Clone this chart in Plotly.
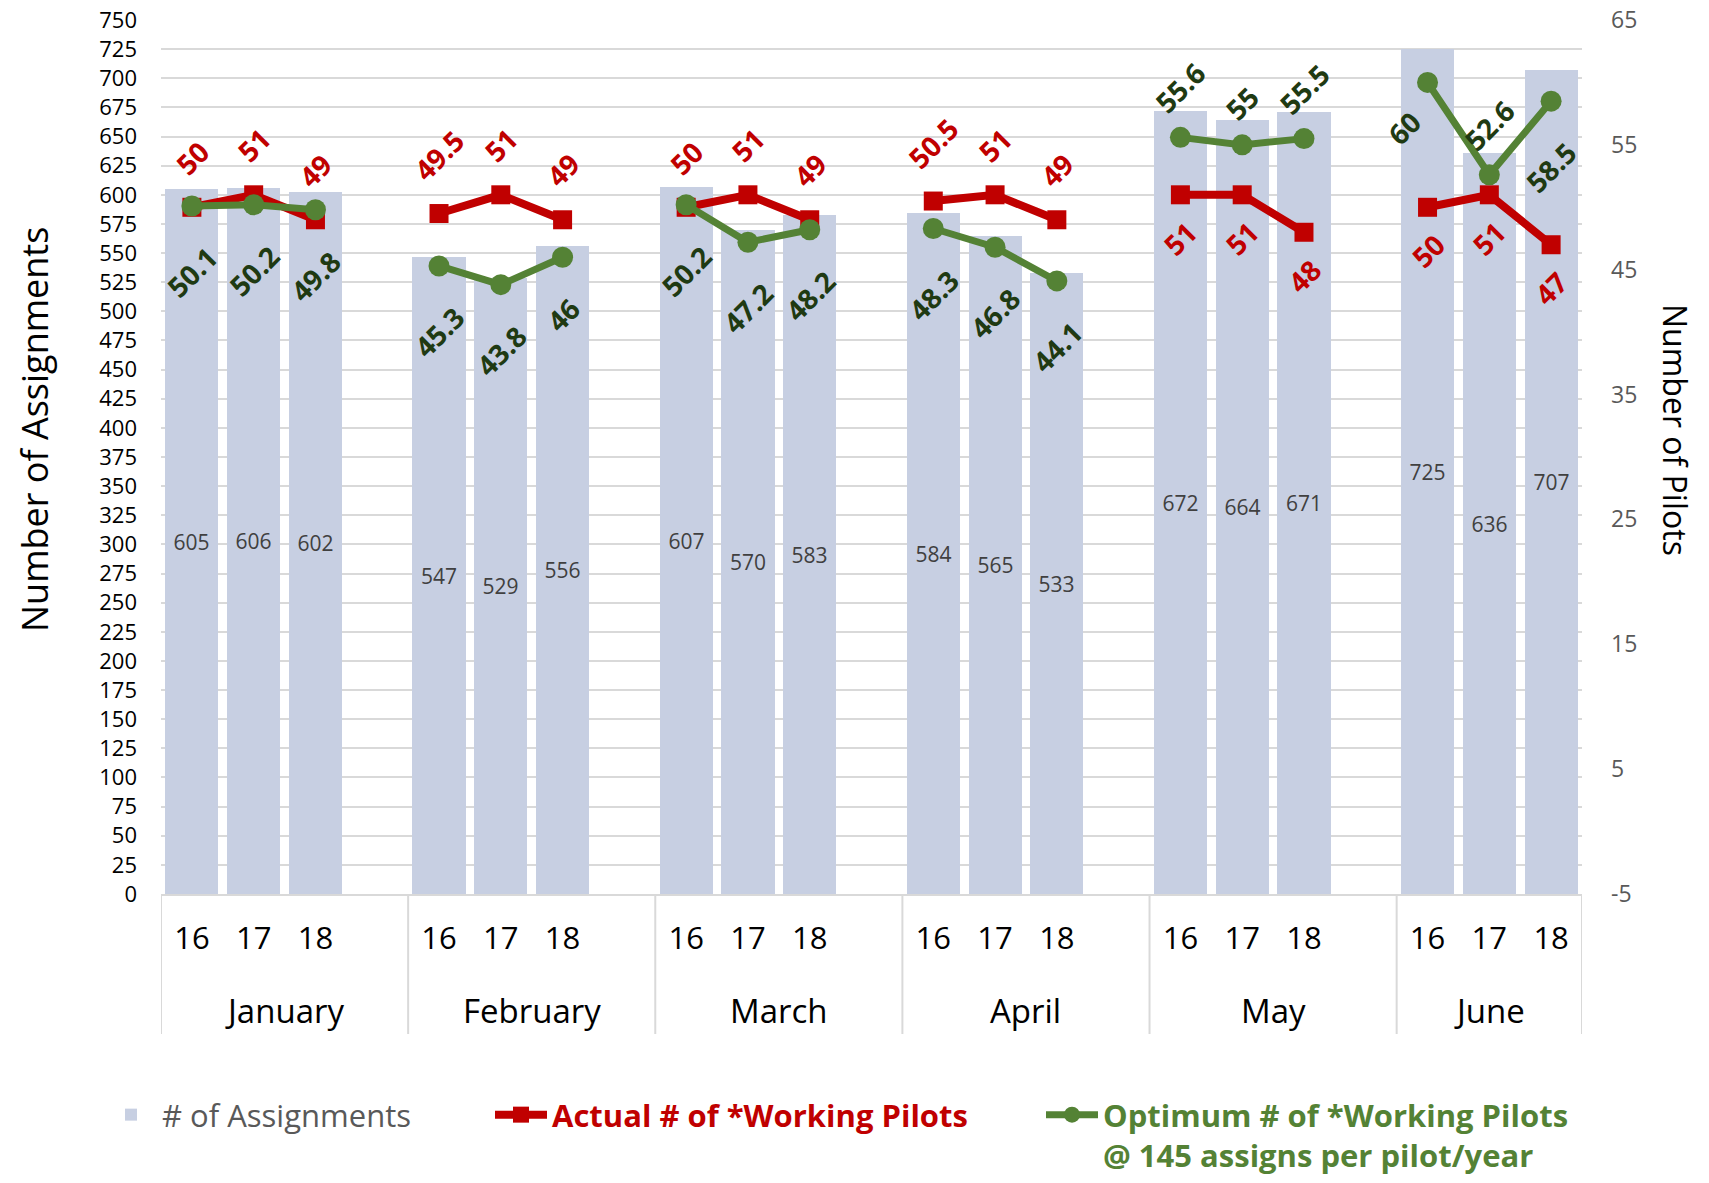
import plotly.graph_objects as go

# ---------------- data ----------------
months = ["January", "February", "March", "April", "May", "June"]
years = ["16", "17", "18"]

assignments = [
    [605, 606, 602],
    [547, 529, 556],
    [607, 570, 583],
    [584, 565, 533],
    [672, 664, 671],
    [725, 636, 707],
]
actual_pilots = [
    [50, 51, 49],
    [49.5, 51, 49],
    [50, 51, 49],
    [50.5, 51, 49],
    [51, 51, 48],
    [50, 51, 47],
]
optimum_pilots = [
    [50.1, 50.2, 49.8],
    [45.3, 43.8, 46],
    [50.2, 47.2, 48.2],
    [48.3, 46.8, 44.1],
    [55.6, 55, 55.5],
    [60, 52.6, 58.5],
]
pilot_ticks = [-5, 5, 15, 25, 35, 45, 55, 65]

# label placement (style, not data)
actual_label_pos = [["above"] * 3] * 4 + [["below"] * 3] * 2
optimum_label_pos = [["below"] * 3] * 4 + [["above"] * 3] + [["left", "above", "below"]]

# ---------------- layout helpers ----------------
SLOTS = 4  # 3 years + 1 empty slot per month group
OFF = 8    # page body margin
W, H = 1709 - OFF, 1183 - OFF


def P(v):  # reference pixel -> figure pixel
    return v - OFF


L, T = P(161), P(20)
R, B = W - P(1582), H - P(894)
PW, PH = W - L - R, H - T - B


def py_paper(py):
    return (H - B - P(py)) / PH


def px_paper(px):
    return (P(px) - L) / PW


bar_x, bar_y, bar_text, tick_text = [], [], [], []
for m, mon in enumerate(months):
    for k, yr in enumerate(years):
        bar_x.append(SLOTS * m + k)
        bar_y.append(assignments[m][k])
        bar_text.append(str(assignments[m][k]))
        tick_text.append(yr)
n_slots = SLOTS * (len(months) - 1) + len(years)


def line_xy(series):
    xs, ys = [], []
    for m in range(len(months)):
        for k in range(len(years)):
            xs.append(SLOTS * m + k)
            ys.append(series[m][k])
        xs.append(SLOTS * m + len(years))
        ys.append(None)
    return xs, ys


RED = "#C00000"
GREEN = "#548235"
DKGREEN = "#1F3A12"
BARC = "#C7CFE2"
GRID = "#D9D9D9"

fig = go.Figure()
fig.add_trace(go.Bar(
    x=bar_x, y=bar_y, text=bar_text, textposition="inside",
    insidetextanchor="middle", textangle=0,
    textfont=dict(family="Liberation Sans Narrow, Arial Narrow, Open Sans, sans-serif",
                  size=21, color="#404040"),
    marker=dict(color=BARC, line=dict(width=0)), width=0.86,
    name="# of Assignments", legend="legend", showlegend=True, hoverinfo="skip",
))

ax, ay = line_xy(actual_pilots)
fig.add_trace(go.Scatter(
    x=ax, y=ay, yaxis="y2", mode="lines+markers", connectgaps=False,
    line=dict(color=RED, width=8),
    marker=dict(symbol="square", size=19, color=RED),
    name="Actual # of *Working Pilots", legend="legend2", showlegend=True,
    hoverinfo="skip",
))
ox, oy = line_xy(optimum_pilots)
fig.add_trace(go.Scatter(
    x=ox, y=oy, yaxis="y2", mode="lines+markers", connectgaps=False,
    line=dict(color=GREEN, width=7),
    marker=dict(symbol="circle", size=21, color=GREEN),
    name="Optimum # of *Working Pilots<br>@ 145 assigns per pilot/year",
    legend="legend3", showlegend=True, hoverinfo="skip",
))

annotations = []
LABEL_FONT = "Open Sans"
LABEL_SIZE = 28


def fmt(v):
    return ("%g" % v)


def add_labels(series, positions, color, gaps):
    for m in range(len(months)):
        for k in range(len(years)):
            pos = positions[m][k]
            a = dict(x=SLOTS * m + k, y=series[m][k], xref="x", yref="y2",
                     text="<b>%s</b>" % fmt(series[m][k]), showarrow=False,
                     textangle=-45,
                     font=dict(family=LABEL_FONT, size=LABEL_SIZE, color=color))
            if pos == "above":
                a.update(xanchor="center", yanchor="bottom", yshift=gaps["above"])
            elif pos == "below":
                a.update(xanchor="center", yanchor="top", yshift=-gaps["below"])
            else:
                a.update(xanchor="right", yanchor="top", xshift=4, yshift=-18)
            annotations.append(a)


add_labels(actual_pilots, actual_label_pos, RED, {"above": 22, "below": 16})
add_labels(optimum_pilots, optimum_label_pos, DKGREEN, {"above": 14, "below": 30})

# month group labels
for m, mon in enumerate(months):
    start = SLOTS * m - 0.5
    end = min(SLOTS * m + SLOTS - 0.5, n_slots - 0.5)
    annotations.append(dict(
        x=(start + end) / 2, y=py_paper(1010), xref="x", yref="paper",
        text=mon, showarrow=False, xanchor="center", yanchor="middle",
        font=dict(family="Open Sans", size=33, color="#000000")))

# axis titles
annotations.append(dict(
    x=px_paper(34), y=py_paper(430), xref="paper", yref="paper",
    text="Number of Assignments", textangle=-90, showarrow=False,
    xanchor="center", yanchor="middle",
    font=dict(family="Open Sans", size=36, color="#000000")))
annotations.append(dict(
    x=px_paper(1676), y=py_paper(430), xref="paper", yref="paper",
    text="Number of Pilots", textangle=90, showarrow=False,
    xanchor="center", yanchor="middle",
    font=dict(family="Open Sans", size=32, color="#000000")))

# group dividers below the axis
shapes = []
div_x = [SLOTS * m - 0.5 for m in range(len(months))] + [n_slots - 0.5]
for dx in div_x:
    shapes.append(dict(type="line", xref="x", yref="paper", x0=dx, x1=dx,
                       y0=0, y1=py_paper(1034),
                       line=dict(color=GRID, width=2)))

LEG_Y = py_paper(1088)
fig.update_layout(
    width=W, height=H,
    margin=dict(l=L, r=R, t=T, b=B, autoexpand=False),
    paper_bgcolor="white", plot_bgcolor="white",
    font=dict(family="Open Sans", color="#000000"),
    showlegend=True,
    bargap=0,
    xaxis=dict(
        range=[-0.5, n_slots - 0.5], tickmode="array", tickvals=bar_x,
        ticktext=tick_text, ticks="", showgrid=False, zeroline=False,
        showline=True, linecolor=GRID, linewidth=2, automargin=False,
        tickfont=dict(family="Open Sans", size=31, color="#000000"),
        ticklabelstandoff=16, ticklabeloverflow="allow",
    ),
    yaxis=dict(
        range=[0, 750], tick0=0, dtick=25, showgrid=True, gridcolor=GRID,
        gridwidth=2, zeroline=False, showline=False, ticks="", automargin=False,
        tickfont=dict(family="Open Sans", size=22, color="#000000"),
        ticklabelstandoff=23, ticklabeloverflow="allow",
    ),
    yaxis2=dict(
        range=[-5, 65], overlaying="y", side="right", tickmode="array",
        tickvals=pilot_ticks, ticktext=[str(v) for v in pilot_ticks],
        showgrid=False, zeroline=False,
        showline=False, ticks="", automargin=False,
        tickfont=dict(family="Open Sans", size=23, color="#595959"),
        ticklabelstandoff=28, ticklabeloverflow="allow",
    ),
    legend=dict(x=px_paper(100), y=LEG_Y, xanchor="left",
                yanchor="top", orientation="h", itemwidth=52, bgcolor="rgba(0,0,0,0)",
                font=dict(family="Open Sans", size=31, color="#595959")),
    legend2=dict(x=px_paper(490), y=LEG_Y, xanchor="left",
                 yanchor="top", orientation="h", itemwidth=52, bgcolor="rgba(0,0,0,0)",
                 font=dict(family="Open Sans", size=31, color=RED, weight="bold")),
    legend3=dict(x=px_paper(1041), y=LEG_Y, xanchor="left",
                 yanchor="top", orientation="h", itemwidth=52, valign="top",
                 bgcolor="rgba(0,0,0,0)",
                 font=dict(family="Open Sans", size=31, color=GREEN, weight="bold")),
    annotations=annotations,
    shapes=shapes,
)

fig.write_html("out.html")
